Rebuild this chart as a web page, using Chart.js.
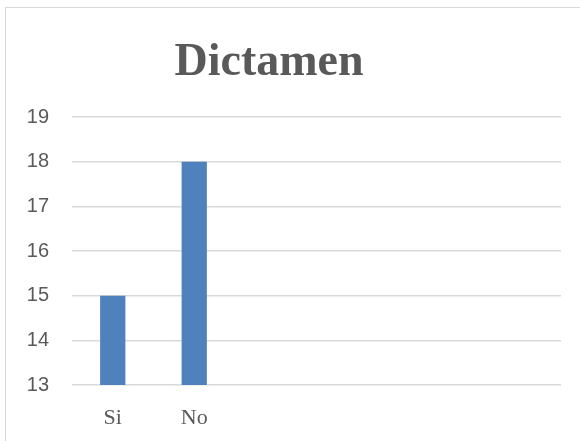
<!DOCTYPE html>
<html>
<head>
<meta charset="utf-8">
<script src="https://cdn.jsdelivr.net/npm/chart.js@4"></script>
<style>
    body { margin: 0; background: #fff; }
    #wrap { position: relative; width: 580px; height: 441px; overflow: hidden; }
    #frame { position: absolute; left: 5px; top: 7px; width: 620px; height: 480px; border: 1px solid #d9d9d9; }
    canvas { position: absolute; left: 0; top: 0; }
</style>
</head>
<body>
<div id="wrap">
    <div id="frame"></div>
    <canvas id="chart" width="580" height="441"></canvas>
</div>
<script>
// Datos del gráfico
const chartTitle = 'Dictamen';
const categories = ['Si', 'No', '', '', '', ''];
const values = [15, 18, null, null, null, null];
const yMin = 13;
const yMax = 19;

const textColor = '#595959';

// Titel selbst zeichnen, damit er wie im Original etwas links von der Mitte steht
const titlePlugin = {
    id: 'titleText',
    afterDraw(chart) {
        const c = chart.ctx;
        c.save();
        c.fillStyle = textColor;
        c.font = 'bold 46px "Liberation Serif"';
        c.textAlign = 'center';
        c.textBaseline = 'alphabetic';
        c.fillText(chartTitle, 269, 75);
        c.restore();
    }
};

const ctx = document.getElementById('chart').getContext('2d');

new Chart(ctx, {
    type: 'bar',
    data: {
        labels: categories,
        datasets: [
            {
                label: chartTitle,
                data: values,
                backgroundColor: '#4f81bd',
                borderWidth: 0,
                barPercentage: 0.31,
                categoryPercentage: 1.0
            }
        ]
    },
    options: {
        responsive: false,
        animation: false,
        layout: {
            padding: { left: 0, right: 19, top: 117, bottom: 0 }
        },
        plugins: {
            legend: { display: false },
            tooltip: { enabled: false },
            title: { display: false }
        },
        scales: {
            x: {
                grid: { display: false, drawTicks: false },
                border: { display: false },
                ticks: {
                    color: textColor,
                    font: { family: 'Liberation Serif', size: 22 },
                    padding: 20
                },
                afterFit: function (scale) {
                    scale.height = 56; // Höhe der X-Achse
                }
            },
            y: {
                min: yMin,
                max: yMax,
                grid: { color: '#d9d9d9', lineWidth: 1.5, drawTicks: false },
                border: { display: false },
                ticks: {
                    stepSize: 1,
                    color: textColor,
                    font: { family: 'Liberation Sans', size: 20 },
                    padding: 23
                },
                afterFit: function (scale) {
                    scale.width = 72;
                }
            }
        }
    },
    plugins: [titlePlugin]
});
</script>
</body>
</html>
